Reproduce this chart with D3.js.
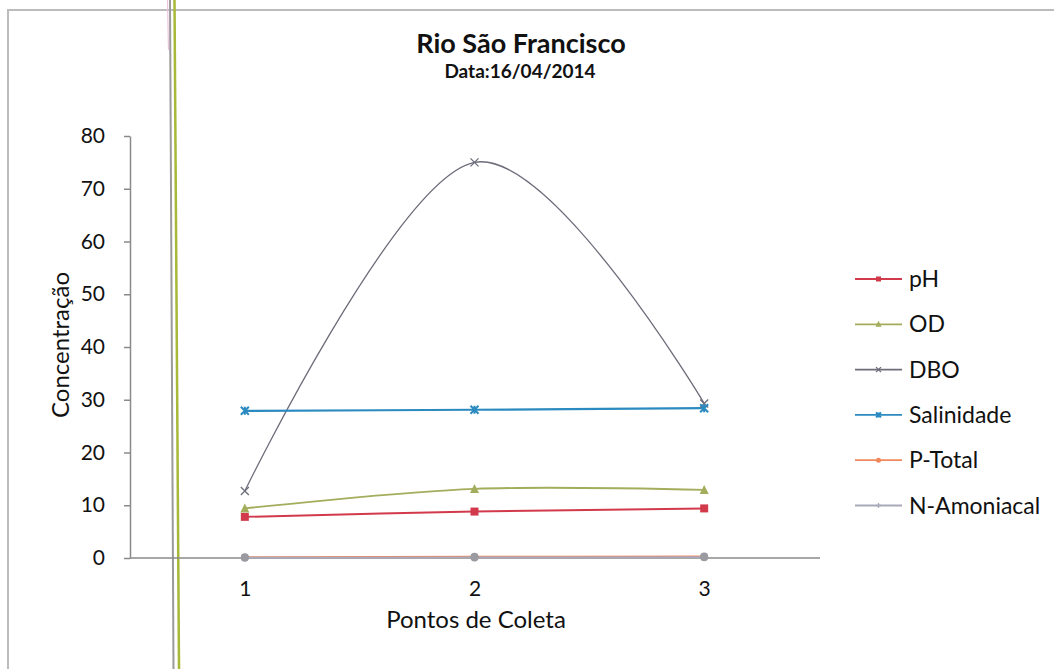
<!DOCTYPE html>
<html>
<head>
<meta charset="utf-8">
<script src="https://cdn.jsdelivr.net/npm/d3@7"></script>
<style>
  html, body { margin: 0; padding: 0; background: #fff; }
  svg { display: block; font-family: Lato, "Open Sans", sans-serif; }
</style>
</head>
<body>
<svg id="chart" width="1054" height="669"></svg>
<script>
// Sampling points along the river
const categories = ["1", "2", "3"];

// Parameter readings at each sampling point
const pH         = [7.8, 8.8, 9.4];
const OD         = [9.4, 13.1, 12.9];
const DBO        = [12.7, 75.0, 29.3];
const Salinidade = [27.9, 28.1, 28.4];
const PTotal     = [0.15, 0.25, 0.3];
const NAmoniacal = [0.05, 0.1, 0.15];

const seriesNames = ["pH", "OD", "DBO", "Salinidade", "P-Total", "N-Amoniacal"];
const yTicks = [0, 10, 20, 30, 40, 50, 60, 70, 80];

const seriesValues = [pH, OD, DBO, Salinidade, PTotal, NAmoniacal];
const seriesStyle = [
  { color: "#d23a4c", marker: "square",   width: 2.0 },
  { color: "#a3ad5c", marker: "triangle", width: 1.8 },
  { color: "#6c6c7a", marker: "x",        width: 1.3 },
  { color: "#2b8abf", marker: "star",     width: 2.2 },
  { color: "#f0885c", marker: "circle",   width: 1.8 },
  { color: "#a9a9bb", marker: "plus",     width: 1.8 }
];

const svg = d3.select("#chart");
const W = 1054, H = 669;

svg.append("rect").attr("width", W).attr("height", H).attr("fill", "#fff");

// Outer chart frame (top and left edges)
svg.append("path")
  .attr("d", `M8,${H} L8,10 L${W},10`)
  .attr("fill", "none").attr("stroke", "#bcbcbc").attr("stroke-width", 2);

// Binding rules down the left side of the sheet
svg.append("line").attr("x1", 167.5).attr("y1", 0).attr("x2", 168.5).attr("y2", 50)
  .attr("stroke", "#ecc4dc").attr("stroke-width", 1.2);
svg.append("line").attr("x1", 170).attr("y1", 0).attr("x2", 173.5).attr("y2", H)
  .attr("stroke", "#9a9a9a").attr("stroke-width", 2);
svg.append("line").attr("x1", 174.5).attr("y1", 0).attr("x2", 179).attr("y2", H)
  .attr("stroke", "#a8b838").attr("stroke-width", 2.5);

const x = d3.scalePoint().domain(categories).range([130, 819]).padding(0.5);
const y = d3.scaleLinear().domain([0, 80]).range([558, 136]);

// Y axis
const yAxis = svg.append("g")
  .attr("transform", "translate(130,0)")
  .call(d3.axisLeft(y).tickValues(yTicks).tickSize(6).tickPadding(19).tickSizeOuter(0));
yAxis.select(".domain").attr("stroke", "#8a8a8a").attr("stroke-width", 1.5);
yAxis.selectAll(".tick line").attr("stroke", "#8a8a8a").attr("stroke-width", 1.5);
yAxis.selectAll(".tick text").attr("font-size", 21).attr("fill", "#111")
  .attr("font-family", "Lato, sans-serif");

// X axis
const xAxis = svg.append("g")
  .attr("transform", "translate(0,558)")
  .call(d3.axisBottom(x).tickSize(0).tickPadding(23).tickSizeOuter(0));
xAxis.select(".domain").attr("stroke", "#8a8a8a").attr("stroke-width", 1.5)
  .attr("d", "M130,0H820");
xAxis.selectAll(".tick text").attr("font-size", 21).attr("fill", "#111")
  .attr("font-family", "Lato, sans-serif");

// Titles
svg.append("text").attr("x", 521).attr("y", 53).attr("text-anchor", "middle")
  .attr("font-size", 27).attr("font-weight", "bold").attr("fill", "#111")
  .text("Rio São Francisco");
svg.append("text").attr("x", 520).attr("y", 78).attr("text-anchor", "middle")
  .attr("font-size", 19).attr("font-weight", "bold").attr("fill", "#111")
  .text("Data:16/04/2014");
svg.append("text").attr("x", 476).attr("y", 628).attr("text-anchor", "middle")
  .attr("font-size", 24).attr("fill", "#111")
  .text("Pontos de Coleta");
svg.append("text").attr("transform", "translate(69,345) rotate(-90)")
  .attr("text-anchor", "middle").attr("font-size", 24).attr("fill", "#111")
  .text("Concentração");

// Marker drawing
function drawMarker(g, type, cx, cy, color, s) {
  const h = s / 2;
  if (type === "square") {
    g.append("rect").attr("x", cx - h).attr("y", cy - h).attr("width", s).attr("height", s)
      .attr("fill", color);
  } else if (type === "triangle") {
    g.append("path").attr("d", `M${cx},${cy - h - 1}L${cx + h + 0.5},${cy + h}L${cx - h - 0.5},${cy + h}Z`)
      .attr("fill", color);
  } else if (type === "x") {
    g.append("path").attr("d", `M${cx - h},${cy - h}L${cx + h},${cy + h}M${cx - h},${cy + h}L${cx + h},${cy - h}`)
      .attr("stroke", color).attr("stroke-width", 1.3).attr("fill", "none");
  } else if (type === "star") {
    g.append("path").attr("d", `M${cx - h},${cy - h}L${cx + h},${cy + h}M${cx - h},${cy + h}L${cx + h},${cy - h}M${cx},${cy - h}L${cx},${cy + h}`)
      .attr("stroke", color).attr("stroke-width", 2).attr("fill", "none");
  } else if (type === "circle") {
    g.append("circle").attr("cx", cx).attr("cy", cy).attr("r", h).attr("fill", color);
  } else if (type === "plus") {
    g.append("path").attr("d", `M${cx - h},${cy}L${cx + h},${cy}M${cx},${cy - h}L${cx},${cy + h}`)
      .attr("stroke", color).attr("stroke-width", 1.3).attr("fill", "none");
  }
}

const line = d3.line()
  .x((d, i) => x(categories[i]))
  .y(d => y(d))
  .curve(d3.curveCardinal.tension(0));

const plot = svg.append("g");
seriesValues.forEach((vals, si) => {
  const st = seriesStyle[si];
  plot.append("path").datum(vals).attr("d", line)
    .attr("fill", "none").attr("stroke", st.color).attr("stroke-width", st.width);
});
// P-Total and N-Amoniacal sit on the baseline as grey dots over the axis
seriesValues.forEach((vals, si) => {
  const st = seriesStyle[si];
  const g = plot.append("g");
  vals.forEach((v, i) => {
    const c = (si >= 4) ? "#9a9aa0" : st.color;
    const type = (si >= 4) ? "circle" : st.marker;
    drawMarker(g, type, x(categories[i]), y(v), c, 8);
  });
});

// Legend
const legend = svg.append("g");
const legY0 = 279, legStep = 45.3;
seriesNames.forEach((name, i) => {
  const st = seriesStyle[i];
  const ly = legY0 + i * legStep;
  legend.append("line").attr("x1", 855).attr("x2", 902).attr("y1", ly).attr("y2", ly)
    .attr("stroke", st.color).attr("stroke-width", 1.8);
  drawMarker(legend, st.marker, 878.5, ly, st.color, 5);
  legend.append("text").attr("x", 909).attr("y", ly).attr("dy", "0.35em")
    .attr("font-size", 23).attr("fill", "#111").text(name);
});
</script>
</body>
</html>
